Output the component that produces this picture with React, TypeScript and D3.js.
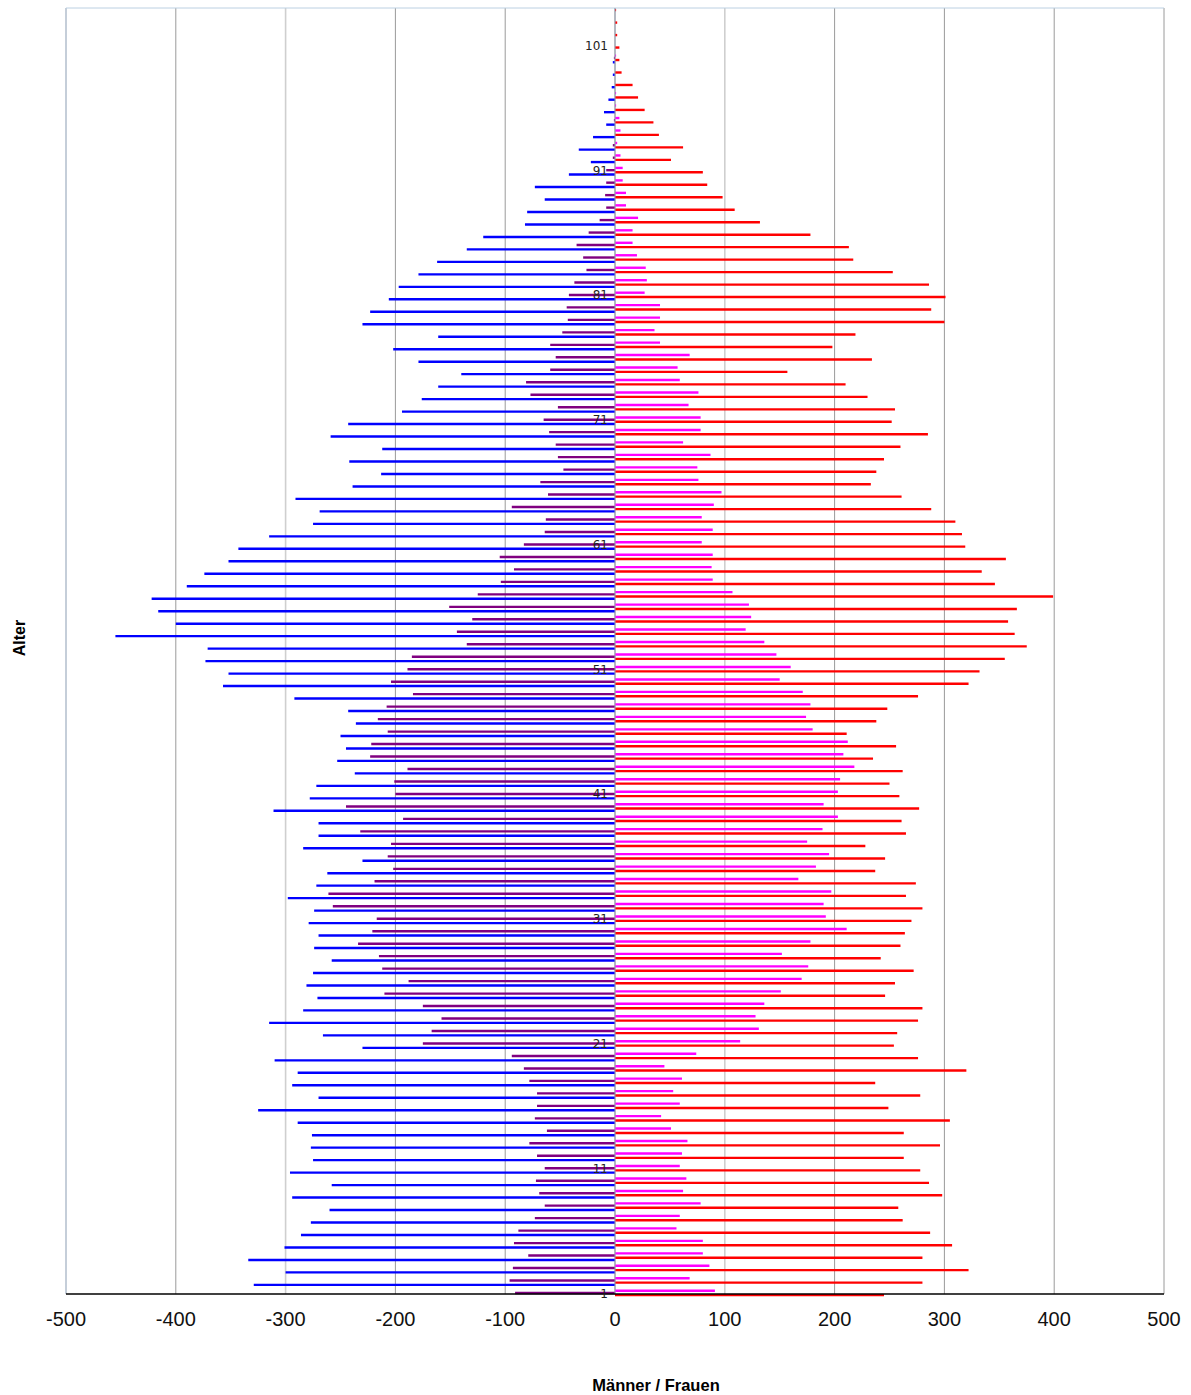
import React, { useRef, useEffect } from "react";
import * as d3 from "d3";

// ages 1..104, index 0 = age 1
const ages = d3.range(1, 105);

// Männer gesamt (blau), negative = links
const menTotal = [
  null, -329, -300, -334, -301, -286, -277, -260, -294, -258,
  -296, -275, -277, -276, -289, -325, -270, -294, -289, -310,
  -230, -266, -315, -284, -271, -281, -275, -258, -274, -270,
  -279, -274, -298, -272, -262, -230, -284, -270, -270, -311,
  -278, -272, -237, -253, -245, -250, -236, -243, -292, -357,
  -352, -373, -371, -455, -400, -416, -422, -390, -374, -352,
  -343, -315, -275, -269, -291, -239, -213, -242, -212, -259,
  -243, -194, -176, -161, -140, -179, -202, -161, -230, -223,
  -206, -197, -179, -162, -135, -120, -82, -80, -64, -73,
  -42, -22, -33, -20, -8, -10, -6, -3, -2, -2,
  0, 0, 0, 0,
];

// Männer Ausländer (lila)
const menForeign = [
  -91, -96, -93, -79, -92, -88, -73, -64, -69, -72,
  -64, -71, -78, -62, -73, -71, -71, -78, -83, -94,
  -175, -167, -158, -175, -210, -188, -212, -215, -234, -221,
  -217, -257, -261, -219, -202, -207, -204, -232, -193, -245,
  -200, -201, -189, -223, -222, -207, -216, -208, -184, -204,
  -189, -185, -135, -144, -130, -151, -125, -104, -92, -105,
  -83, -64, -63, -94, -61, -68, -47, -52, -54, -60,
  -65, -52, -77, -81, -59, -54, -59, -48, -43, -44,
  -42, -37, -26, -29, -35, -24, -14, -8, -9, -8,
  -8, -2, -2, 0, -1, 0, 0, 0, 0, -1,
  0, 0, 0, 0,
];

// Frauen gesamt (rot)
const womenTotal = [
  245, 280, 322, 280, 307, 287, 262, 258, 298, 286,
  278, 263, 296, 263, 305, 249, 278, 237, 320, 276,
  254, 257, 276, 280, 246, 255, 272, 242, 260, 264,
  270, 280, 265, 274, 237, 246, 228, 265, 261, 277,
  259, 250, 262, 235, 256, 211, 238, 248, 276, 322,
  332, 355, 375, 364, 358, 366, 399, 346, 334, 356,
  319, 316, 310, 288, 261, 233, 238, 245, 260, 285,
  252, 255, 230, 210, 157, 234, 198, 219, 300, 288,
  301, 286, 253, 217, 213, 178, 132, 109, 98, 84,
  80, 51, 62, 40, 35, 27, 21, 16, 6, 4,
  4, 2, 2, 1,
];

// Frauen Ausländerinnen (magenta)
const womenForeign = [
  91, 68, 86, 80, 80, 56, 59, 78, 62, 65,
  59, 61, 66, 51, 42, 59, 53, 61, 45, 74,
  114, 131, 128, 136, 151, 170, 176, 152, 178, 211,
  192, 190, 197, 167, 183, 195, 175, 189, 203, 190,
  203, 205, 218, 208, 212, 180, 174, 178, 171, 150,
  160, 147, 136, 119, 124, 122, 107, 89, 88, 89,
  79, 89, 79, 90, 97, 76, 75, 87, 62, 78,
  78, 67, 76, 59, 57, 68, 41, 36, 41, 41,
  27, 29, 28, 20, 16, 16, 21, 10, 10, 7,
  7, 5, 2, 5, 4, 1, 1, 0, 0, 1,
  0, 0, 0, 0,
];

const xTicks = [-500, -400, -300, -200, -100, 0, 100, 200, 300, 400, 500];
const ageLabels = [1, 11, 21, 31, 41, 51, 61, 71, 81, 91, 101];

const App = () => {
  const svgRef = useRef();
  const width = 1191;
  const height = 1395;

  useEffect(() => {
    const plot = { left: 66, right: 1164, top: 8, bottom: 1294 };

    const x = d3.scaleLinear().domain([-500, 500]).range([plot.left, plot.right]);
    const y = d3.scaleLinear().domain([1, 104]).range([plot.bottom - 1, plot.top]);
    const step = Math.abs(y(1) - y(2));

    const svg = d3.select(svgRef.current);
    svg.selectAll("*").remove();

    // vertical grid
    svg
      .append("g")
      .selectAll("line")
      .data(xTicks)
      .join("line")
      .attr("x1", (d) => x(d))
      .attr("x2", (d) => x(d))
      .attr("y1", plot.top)
      .attr("y2", plot.bottom)
      .attr("stroke", (d) => (d === -500 ? "#8b9db3" : d === 100 || d === -300 ? "#cfcfcf" : "#9a9a9a"))
      .attr("stroke-width", (d) => (d === 100 || d === -300 ? 1.6 : 1));

    // top border
    svg
      .append("line")
      .attr("x1", plot.left)
      .attr("x2", plot.right)
      .attr("y1", plot.top)
      .attr("y2", plot.top)
      .attr("stroke", "#bcd0e2")
      .attr("stroke-width", 1);

    // series: value array, color, offset (in age steps)
    const series = [
      { values: womenForeign, color: "#ff00ff", off: -0.18 },
      { values: menForeign, color: "#800080", off: 0 },
      { values: womenTotal, color: "#ff0000", off: 0.17 },
      { values: menTotal, color: "#0000ff", off: 0.35 },
    ];

    series.forEach((s) => {
      const pts = ages
        .map((a, i) => ({ age: a, val: s.values[i] }))
        .filter((d) => d.val !== null && d.val !== 0);
      svg
        .append("g")
        .selectAll("line")
        .data(pts)
        .join("line")
        .attr("x1", x(0))
        .attr("x2", (d) => x(d.val))
        .attr("y1", (d) => y(d.age) + s.off * step)
        .attr("y2", (d) => y(d.age) + s.off * step)
        .attr("stroke", s.color)
        .attr("stroke-width", 2.4);
    });

    // zero line on top
    svg
      .append("line")
      .attr("x1", x(0))
      .attr("x2", x(0))
      .attr("y1", plot.top)
      .attr("y2", plot.bottom)
      .attr("stroke", "#9aa3b5")
      .attr("stroke-width", 1);

    // bottom axis
    svg
      .append("line")
      .attr("x1", plot.left)
      .attr("x2", plot.right)
      .attr("y1", plot.bottom)
      .attr("y2", plot.bottom)
      .attr("stroke", "#000")
      .attr("stroke-width", 1.5);

    // x tick labels
    svg
      .append("g")
      .selectAll("text")
      .data(xTicks)
      .join("text")
      .attr("x", (d) => x(d))
      .attr("y", plot.bottom + 32)
      .attr("text-anchor", "middle")
      .attr("font-family", "Liberation Sans, Arial, sans-serif")
      .attr("font-size", 20)
      .attr("fill", "#111")
      .text((d) => d);

    // age labels
    svg
      .append("g")
      .selectAll("text")
      .data(ageLabels)
      .join("text")
      .attr("x", x(0) - 7)
      .attr("y", (d) => y(d) + 4.5)
      .attr("text-anchor", "end")
      .attr("font-family", "DejaVu Sans, sans-serif")
      .attr("font-size", 12)
      .attr("fill", "#222")
      .text((d) => d);

    // axis titles
    svg
      .append("text")
      .attr("x", 656)
      .attr("y", 1391)
      .attr("text-anchor", "middle")
      .attr("font-family", "Liberation Sans, Arial, sans-serif")
      .attr("font-weight", "bold")
      .attr("font-size", 16.5)
      .text("Männer / Frauen");

    svg
      .append("text")
      .attr("transform", "translate(25,638) rotate(-90)")
      .attr("text-anchor", "middle")
      .attr("font-family", "Liberation Sans, Arial, sans-serif")
      .attr("font-weight", "bold")
      .attr("font-size", 16)
      .text("Alter");
  }, []);

  return (
    <svg
      ref={svgRef}
      width={width}
      height={height}
      style={{ position: "absolute", left: 0, top: 0, background: "#fff" }}
    ></svg>
  );
};

export default App;
